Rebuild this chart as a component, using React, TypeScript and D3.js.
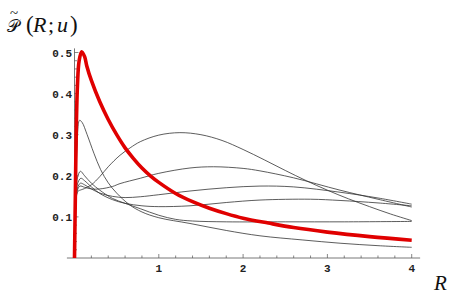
import React, { useRef, useEffect } from "react"
import * as d3 from "d3"

// values, as [R, P] pairs
const redCurve: [number, number][] = [
  [0, 0], [0.01, 0.15], [0.02, 0.3], [0.035, 0.42], [0.055, 0.48], [0.085, 0.502],
  [0.12, 0.49], [0.145, 0.468], [0.2, 0.432], [0.3, 0.38], [0.4, 0.337], [0.5, 0.3],
  [0.6, 0.268], [0.7, 0.242], [0.8, 0.219], [0.9, 0.2], [1.0, 0.184], [1.2, 0.157],
  [1.4, 0.137], [1.6, 0.121], [1.8, 0.108], [2.0, 0.097], [2.3, 0.085], [2.6, 0.074],
  [3.0, 0.063], [3.5, 0.052], [4, 0.043],
]

const curveA: [number, number][] = [
  [0.012, 0.13], [0.03, 0.27], [0.06, 0.335], [0.09, 0.33], [0.15, 0.3], [0.23, 0.255],
  [0.31, 0.215], [0.4, 0.183], [0.5, 0.158], [0.65, 0.13], [0.8, 0.112], [1.0, 0.098],
  [1.37, 0.084], [1.8, 0.067], [2.2, 0.054], [2.7, 0.044], [3.15, 0.036], [3.6, 0.03], [4, 0.026],
]

const curveF: [number, number][] = [
  [0.012, 0.13], [0.035, 0.195], [0.07, 0.211], [0.12, 0.2], [0.2, 0.182], [0.3, 0.165],
  [0.45, 0.145], [0.6, 0.133], [0.78, 0.12], [1.0, 0.104], [1.2, 0.094], [1.4, 0.09],
  [1.8, 0.088], [2.5, 0.088], [3.2, 0.088], [4, 0.089],
]

const curveE: [number, number][] = [
  [0.012, 0.13], [0.035, 0.18], [0.075, 0.194], [0.12, 0.188], [0.2, 0.173], [0.3, 0.157],
  [0.45, 0.142], [0.6, 0.133], [0.8, 0.127], [1.0, 0.125], [1.37, 0.127], [1.8, 0.135],
  [2.2, 0.141], [2.8, 0.143], [3.15, 0.14], [3.6, 0.134], [4, 0.127],
]

const curveD: [number, number][] = [
  [0.012, 0.13], [0.035, 0.17], [0.07, 0.182], [0.12, 0.178], [0.2, 0.168], [0.3, 0.158],
  [0.45, 0.15], [0.6, 0.147], [0.78, 0.149], [1.0, 0.154], [1.37, 0.163], [1.8, 0.171],
  [2.2, 0.175], [2.6, 0.173], [3.15, 0.16], [3.6, 0.146], [4, 0.131],
]

const curveC: [number, number][] = [
  [0.012, 0.13], [0.035, 0.165], [0.065, 0.175], [0.12, 0.172], [0.2, 0.168], [0.3, 0.168],
  [0.45, 0.174], [0.54, 0.181], [0.78, 0.194], [1.0, 0.206], [1.37, 0.219], [1.65, 0.222],
  [2.0, 0.218], [2.2, 0.212], [2.6, 0.195], [3.15, 0.165], [3.6, 0.143], [4, 0.124],
]

const curveB: [number, number][] = [
  [0.012, 0.13], [0.04, 0.162], [0.08, 0.166], [0.12, 0.169], [0.2, 0.178], [0.3, 0.198],
  [0.4, 0.222], [0.54, 0.25], [0.66, 0.268], [0.78, 0.283], [1.0, 0.299], [1.25, 0.305],
  [1.5, 0.3], [1.75, 0.286], [2.0, 0.264], [2.25, 0.239], [2.5, 0.213], [2.75, 0.188],
  [3.0, 0.165], [3.25, 0.144], [3.5, 0.125], [3.75, 0.107], [4, 0.091],
]

const blackCurves = [curveA, curveB, curveC, curveD, curveE, curveF]

const xTicks = [1, 2, 3, 4]
const yTicks = [0.1, 0.2, 0.3, 0.4, 0.5]

export default function App() {
  return <Chart />
}

function Chart() {
  const svgRef = useRef<SVGSVGElement>(null)

  useEffect(() => {
    const width = 464
    const height = 299

    const svg = d3.select(svgRef.current)
      .attr("width", width)
      .attr("height", height)
    svg.selectAll("*").remove()

    const xScale = d3.scaleLinear().domain([0, 4]).range([74.5, 411.7])
    const yScale = d3.scaleLinear().domain([0, 0.5]).range([258, 52.5])

    const axisColor = "#555"

    // x axis line, a little past both ends like Mathematica does
    svg.append("line")
      .attr("x1", xScale(-0.09)).attr("x2", xScale(4.1))
      .attr("y1", yScale(0)).attr("y2", yScale(0))
      .attr("stroke", axisColor).attr("stroke-width", 0.8)

    svg.append("line")
      .attr("x1", xScale(0)).attr("x2", xScale(0))
      .attr("y1", yScale(0)).attr("y2", yScale(0.51))
      .attr("stroke", axisColor).attr("stroke-width", 0.8)

    // minor ticks
    const xMinor = d3.range(1, 21).map(i => i * 0.2)
    svg.append("g").selectAll("line")
      .data(xMinor)
      .join("line")
        .attr("x1", d => xScale(d)).attr("x2", d => xScale(d))
        .attr("y1", yScale(0)).attr("y2", d => yScale(0) - (Math.abs(d - Math.round(d)) < 1e-6 ? 4 : 2.5))
        .attr("stroke", axisColor).attr("stroke-width", 0.7)

    const yMinor = d3.range(1, 26).map(i => i * 0.02)
    svg.append("g").selectAll("line")
      .data(yMinor)
      .join("line")
        .attr("x1", xScale(0)).attr("x2", d => xScale(0) + (Math.abs(d * 10 - Math.round(d * 10)) < 1e-6 ? 4 : 2.5))
        .attr("y1", d => yScale(d)).attr("y2", d => yScale(d))
        .attr("stroke", axisColor).attr("stroke-width", 0.7)

    // tick labels
    svg.append("g").selectAll("text")
      .data(xTicks)
      .join("text")
        .attr("x", d => xScale(d))
        .attr("y", yScale(0) + 14)
        .attr("text-anchor", "middle")
        .attr("font-family", "'Liberation Mono', 'DejaVu Sans Mono', monospace")
        .attr("font-weight", "bold")
        .attr("font-size", 11)
        .attr("fill", "#222")
        .text(d => d)

    svg.append("g").selectAll("text")
      .data(yTicks)
      .join("text")
        .attr("x", 72)
        .attr("y", d => yScale(d) + 4)
        .attr("text-anchor", "end")
        .attr("font-family", "'Liberation Mono', 'DejaVu Sans Mono', monospace")
        .attr("font-weight", "bold")
        .attr("font-size", 11)
        .attr("fill", "#222")
        .text(d => d.toFixed(1))

    const line = d3.line<[number, number]>()
      .x(d => xScale(d[0]))
      .y(d => yScale(d[1]))
      .curve(d3.curveCatmullRom.alpha(0.5))

    svg.append("g").selectAll("path")
      .data(blackCurves)
      .join("path")
        .attr("d", d => line(d))
        .attr("fill", "none")
        .attr("stroke", "#333")
        .attr("stroke-width", 0.8)

    svg.append("path")
      .attr("d", line(redCurve))
      .attr("fill", "none")
      .attr("stroke", "#e00000")
      .attr("stroke-width", 3.6)
      .attr("stroke-linejoin", "round")

    // axis label
    svg.append("text")
      .attr("x", 434).attr("y", 290)
      .attr("font-family", "'Liberation Serif', 'DejaVu Serif', serif")
      .attr("font-style", "italic")
      .attr("font-size", 21)
      .attr("fill", "#111")
      .text("R")

    // title, glyphs placed one by one to match the wide TeX spacing
    const title = svg.append("g")
      .attr("font-family", "'Liberation Serif', 'DejaVu Serif', serif")
      .attr("fill", "#111")
    title.append("text").attr("x", 7).attr("y", 32)
      .attr("font-family", "'DejaVu Sans', serif").attr("font-size", 17).text("𝒫")
    title.append("text").attr("x", 10).attr("y", 18).attr("font-size", 15).text("~")
    title.append("text").attr("x", 26).attr("y", 32).attr("font-size", 23).text("(")
    title.append("text").attr("x", 33).attr("y", 32).attr("font-size", 22).attr("font-style", "italic").text("R")
    title.append("text").attr("x", 48).attr("y", 32).attr("font-size", 22).text(";")
    title.append("text").attr("x", 57).attr("y", 32).attr("font-size", 22).attr("font-style", "italic").text("u")
    title.append("text").attr("x", 70).attr("y", 32).attr("font-size", 23).text(")")
  }, [])

  return (
    <svg ref={svgRef} style={{ position: "absolute", left: 0, top: 0 }}></svg>
  )
}
